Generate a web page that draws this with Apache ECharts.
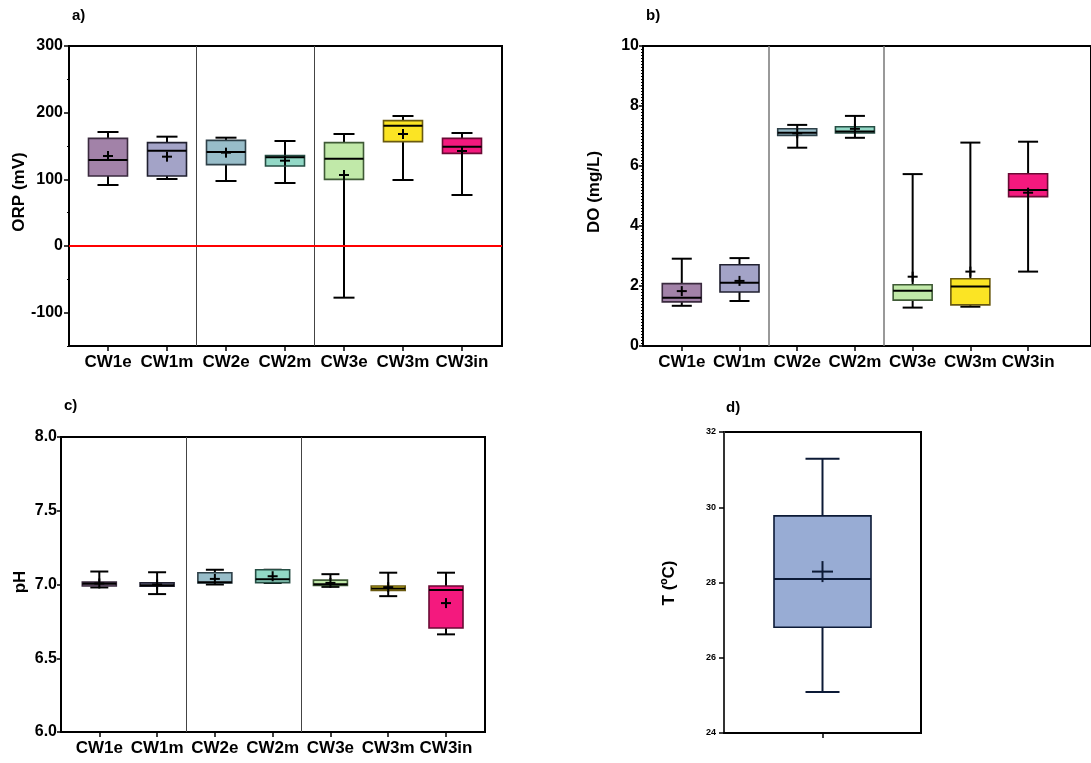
<!DOCTYPE html>
<html><head><meta charset="utf-8">
<script src="https://cdn.jsdelivr.net/npm/echarts@6/dist/echarts.min.js"></script>
<style>html,body{margin:0;padding:0;background:#fff}#c{width:1091px;height:763px}</style>
</head><body><div id="c"></div>
<script>
const categories = ['CW1e','CW1m','CW2e','CW2m','CW3e','CW3m','CW3in'];

const orpMin    = [91.5, 100.5, 97.5, 94.5, -77.5, 99, 76.5];
const orpQ1     = [105, 105, 122, 120, 100, 156.5, 139];
const orpMedian = [129, 143, 141, 133, 131, 180.5, 149];
const orpQ3     = [161.5, 155, 158.5, 135.5, 155, 188, 161.5];
const orpMax    = [171, 164, 162.5, 157.5, 168, 195, 169.5];
const orpMean   = [135, 134, 140, 128, 106.5, 168, 142.5];

const doMin    = [1.34, 1.5, 6.61, 6.94, 1.28, 1.31, 2.48];
const doQ1     = [1.47, 1.8, 7.02, 7.1, 1.53, 1.37, 4.98];
const doMedian = [1.61, 2.11, 7.11, 7.15, 1.84, 1.98, 5.2];
const doQ3     = [2.08, 2.71, 7.24, 7.31, 2.04, 2.24, 5.74];
const doMax    = [2.91, 2.93, 7.37, 7.67, 5.73, 6.78, 6.81];
const doMean   = [1.83, 2.17, 7.09, 7.24, 2.31, 2.48, 5.11];

const phMin    = [6.98, 6.935, 7.0, 7.01, 6.984, 6.921, 6.662];
const phQ1     = [6.99, 6.989, 7.011, 7.013, 6.993, 6.96, 6.705];
const phMedian = [7.005, 6.995, 7.016, 7.036, 7.002, 6.973, 6.962];
const phQ3     = [7.016, 7.011, 7.08, 7.1, 7.03, 6.99, 6.99];
const phMax    = [7.088, 7.083, 7.10, 7.1, 7.07, 7.08, 7.08];
const phMean   = [7.007, 7.0, 7.038, 7.056, 7.011, 6.982, 6.874];

const tempCategories = [''];
const tempMin = [25.09], tempQ1 = [26.81], tempMedian = [28.09], tempQ3 = [29.77], tempMax = [31.29], tempMean = [28.29];

const orpLabels = [-100, 0, 100, 200, 300];
const orpMinorTicks = [-150, -50, 50, 150, 250];

const fills   = ['#A282A8','#A3A3C7','#98BDC9','#92D8C6','#C1E9A9','#FBE424','#F4197E'];
const strokes = ['#3A2A3E','#202030','#2E4048','#264E44','#3F5A36','#6A5A10','#6A0A34'];

const FONT = '"Liberation Sans", Arial, sans-serif';

function rows(mn, q1, md, q3, mx, me) {
  return mn.map((v, i) => [i, mn[i], q1[i], md[i], q3[i], mx[i], me[i]]);
}

function makeRender(o) {
  return function (params, api) {
    const i = api.value(0);
    const pt = k => api.coord([i, api.value(k)]);
    const cx = pt(1)[0];
    const yMin = pt(1)[1], yQ1 = pt(2)[1], yMed = pt(3)[1], yQ3 = pt(4)[1], yMax = pt(5)[1], yMean = pt(6)[1];
    const hw = o.boxW / 2, cw = o.capW / 2, pl = o.plus / 2;
    const ls = { stroke: o.lineColor, lineWidth: o.lw };
    return {
      type: 'group',
      children: [
        { type: 'line', shape: { x1: cx, y1: yQ1, x2: cx, y2: yMin }, style: ls },
        { type: 'line', shape: { x1: cx, y1: yQ3, x2: cx, y2: yMax }, style: ls },
        { type: 'line', shape: { x1: cx - cw, y1: yMin, x2: cx + cw, y2: yMin }, style: ls },
        { type: 'line', shape: { x1: cx - cw, y1: yMax, x2: cx + cw, y2: yMax }, style: ls },
        { type: 'rect', shape: { x: cx - hw, y: yQ3, width: o.boxW, height: Math.max(yQ1 - yQ3, 1) },
          style: { fill: o.fills[i], stroke: o.strokes[i], lineWidth: 1.6 } },
        { type: 'line', shape: { x1: cx - hw, y1: yMed, x2: cx + hw, y2: yMed }, style: ls },
        { type: 'line', shape: { x1: cx - pl, y1: yMean, x2: cx + pl, y2: yMean }, style: ls },
        { type: 'line', shape: { x1: cx, y1: yMean - pl, x2: cx, y2: yMean + pl }, style: ls }
      ]
    };
  };
}

function xAxisFor(gi, min, max, cats, fontSize) {
  return {
    type: 'value', gridIndex: gi, min: min, max: max,
    axisLine: { show: true, onZero: false, lineStyle: { color: '#000', width: 2 } },
    axisTick: { show: true, length: 5, lineStyle: { color: '#000', width: 1.5 }, customValues: cats.map((c, i) => i) },
    axisLabel: { show: true, margin: 8, customValues: cats.map((c, i) => i),
      formatter: v => cats[Math.round(v)] || '', color: '#000', fontWeight: 'bold', fontSize: fontSize, fontFamily: FONT },
    splitLine: { show: false }
  };
}

const sepLine = { silent: true, symbol: 'none', animation: false, label: { show: false },
  lineStyle: { color: '#444', width: 1, type: 'solid' }, emphasis: { disabled: true } };

const axisLabelStyle = { color: '#000', fontWeight: 'bold', fontSize: 16, fontFamily: FONT };

const option = {
  animation: false,
  backgroundColor: '#fff',
  grid: [
    { left: 69, top: 46, width: 433, height: 300, show: true, borderColor: '#000', borderWidth: 2, backgroundColor: 'transparent' },
    { left: 643, top: 46, width: 457, height: 300, show: true, borderColor: '#000', borderWidth: 2, backgroundColor: 'transparent' },
    { left: 61, top: 437, width: 424, height: 295, show: true, borderColor: '#000', borderWidth: 2, backgroundColor: 'transparent' },
    { left: 724, top: 432, width: 197, height: 301, show: true, borderColor: '#000', borderWidth: 2, backgroundColor: 'transparent' }
  ],
  xAxis: [
    xAxisFor(0, -0.661, 6.678, categories, 17),
    xAxisFor(1, -0.672, 7.09, categories, 17),
    xAxisFor(2, -0.663, 6.675, categories, 17),
    Object.assign(xAxisFor(3, -1, 1, tempCategories, 17), { axisLabel: { show: false } })
  ],
  yAxis: [
    { type: 'value', gridIndex: 0, min: -150, max: 300, position: 'left',
      axisLine: { show: true, onZero: false, lineStyle: { color: '#000', width: 2 } },
      axisTick: { show: true, length: 5, lineStyle: { color: '#000', width: 1.5 }, customValues: orpLabels },
      axisLabel: Object.assign({ margin: 6, customValues: orpLabels }, axisLabelStyle),
      splitLine: { show: false } },
    { type: 'value', gridIndex: 0, min: -150, max: 300, position: 'left', offset: 0,
      axisLine: { show: false, onZero: false },
      axisTick: { show: true, length: 2, lineStyle: { color: '#000', width: 1 }, customValues: orpMinorTicks },
      axisLabel: { show: false }, splitLine: { show: false } },
    { type: 'value', gridIndex: 1, min: 0, max: 10, interval: 2,
      axisLine: { show: true, onZero: false, lineStyle: { color: '#000', width: 2 } },
      axisTick: { show: true, length: 4, lineStyle: { color: '#000', width: 1.5 } },
      minorTick: { show: true, splitNumber: 20, length: 2, lineStyle: { color: '#000', width: 1 } },
      axisLabel: Object.assign({ margin: 4 }, axisLabelStyle),
      splitLine: { show: false } },
    { type: 'value', gridIndex: 2, min: 6, max: 8, interval: 0.5,
      axisLine: { show: true, onZero: false, lineStyle: { color: '#000', width: 2 } },
      axisTick: { show: true, length: 4, lineStyle: { color: '#000', width: 1.5 } },
      axisLabel: Object.assign({ margin: 4, formatter: v => v.toFixed(1) }, axisLabelStyle),
      splitLine: { show: false } },
    { type: 'value', gridIndex: 3, min: 24, max: 32, interval: 2,
      axisLine: { show: true, onZero: false, lineStyle: { color: '#333', width: 2 } },
      axisTick: { show: true, length: 5, lineStyle: { color: '#000', width: 1.5 } },
      axisLabel: { margin: 8, color: '#000', fontWeight: 'bold', fontSize: 9, fontFamily: FONT },
      splitLine: { show: false } }
  ],
  graphic: [
    { type: 'text', left: 72, top: 8, style: { text: 'a)', font: 'bold 15px ' + FONT, fill: '#000' } },
    { type: 'text', left: 646, top: 8, style: { text: 'b)', font: 'bold 15px ' + FONT, fill: '#000' } },
    { type: 'text', left: 64, top: 398, style: { text: 'c)', font: 'bold 15px ' + FONT, fill: '#000' } },
    { type: 'text', left: 726, top: 400, style: { text: 'd)', font: 'bold 15px ' + FONT, fill: '#000' } },
    { type: 'text', x: 19, y: 192, rotation: Math.PI / 2, style: { text: 'ORP (mV)', font: 'bold 17px ' + FONT, fill: '#000', align: 'center', verticalAlign: 'middle' } },
    { type: 'text', x: 594, y: 192, rotation: Math.PI / 2, style: { text: 'DO (mg/L)', font: 'bold 17px ' + FONT, fill: '#000', align: 'center', verticalAlign: 'middle' } },
    { type: 'text', x: 20, y: 582, rotation: Math.PI / 2, style: { text: 'pH', font: 'bold 17px ' + FONT, fill: '#000', align: 'center', verticalAlign: 'middle' } },
    { type: 'text', x: 669, y: 583, rotation: Math.PI / 2, style: { text: 'T (ºC)', font: 'bold 17px ' + FONT, fill: '#000', align: 'center', verticalAlign: 'middle' } }
  ],
  series: [
    { type: 'custom', xAxisIndex: 0, yAxisIndex: 0, z: 3,
      renderItem: makeRender({ boxW: 39, capW: 21, plus: 10, lw: 2, lineColor: '#000', fills: fills, strokes: strokes }),
      data: rows(orpMin, orpQ1, orpMedian, orpQ3, orpMax, orpMean),
      markLine: Object.assign({}, sepLine, { data: [
        { xAxis: 1.5 }, { xAxis: 3.5 },
        { yAxis: 0, lineStyle: { color: '#ff0000', width: 2, type: 'solid' } }
      ] }) },
    { type: 'custom', xAxisIndex: 1, yAxisIndex: 2, z: 3,
      renderItem: makeRender({ boxW: 39, capW: 20, plus: 10, lw: 2, lineColor: '#000', fills: fills, strokes: strokes }),
      data: rows(doMin, doQ1, doMedian, doQ3, doMax, doMean),
      markLine: Object.assign({}, sepLine, { lineStyle: { color: '#777', width: 1.5, type: 'solid' }, data: [{ xAxis: 1.5 }, { xAxis: 3.5 }] }) },
    { type: 'custom', xAxisIndex: 2, yAxisIndex: 3, z: 3,
      renderItem: makeRender({ boxW: 34, capW: 18, plus: 10, lw: 2, lineColor: '#000', fills: fills, strokes: strokes }),
      data: rows(phMin, phQ1, phMedian, phQ3, phMax, phMean),
      markLine: Object.assign({}, sepLine, { data: [{ xAxis: 1.5 }, { xAxis: 3.5 }] }) },
    { type: 'custom', xAxisIndex: 3, yAxisIndex: 4, z: 3,
      renderItem: makeRender({ boxW: 97, capW: 34, plus: 21, lw: 2, lineColor: '#0C1A36', fills: ['#98ACD4'], strokes: ['#0C1A36'] }),
      data: rows(tempMin, tempQ1, tempMedian, tempQ3, tempMax, tempMean) }
  ]
};

const chart = echarts.init(document.getElementById('c'), null, { renderer: 'canvas' });
chart.setOption(option);
</script>
</body></html>
